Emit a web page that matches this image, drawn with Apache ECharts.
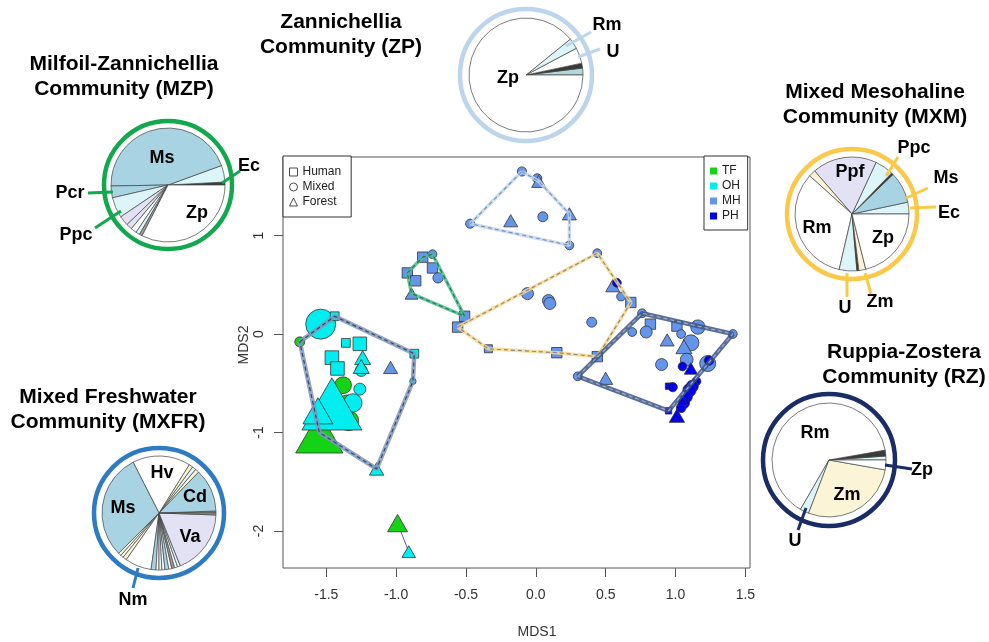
<!DOCTYPE html>
<html><head><meta charset="utf-8">
<script src="https://cdn.jsdelivr.net/npm/echarts@6/dist/echarts.min.js"></script>
<style>html,body{margin:0;padding:0;background:#fff}#c{width:989px;height:642px}</style>
</head><body><div id="c"></div>
<script>
// ---------- DATA ----------
const LANDUSE = ['Human', 'Mixed', 'Forest'];
const SALINITY = ['TF', 'OH', 'MH', 'PH'];
const xTicks = [-1.5, -1, -0.5, 0, 0.5, 1, 1.5];
const yTicks = [-2, -1, 0, 1];

// points: [MDS1, MDS2, relative size, landuse index]
const tfPoints = [
  [-1.69, -0.08, 2.5, 1],
  [-1.38, -0.52, 4.2, 1],
  [-1.35, -0.72, 5, 1],
  [-1.34, -0.88, 5, 1],
  [-1.55, -1.00, 11.8, 2],
  [-0.99, -1.92, 5, 2]
];
const ohPoints = [
  [-1.54, 0.10, 7.5, 1],
  [-1.44, 0.18, 2.2, 0],
  [-1.36, -0.09, 2.2, 0],
  [-1.26, -0.10, 3.4, 0],
  [-1.46, -0.24, 3.4, 0],
  [-1.42, -0.35, 3.4, 0],
  [-1.25, -0.37, 3, 1],
  [-1.24, -0.24, 4, 2],
  [-1.25, -0.33, 4, 2],
  [-0.87, -0.20, 2.2, 0],
  [-0.88, -0.48, 1.6, 1],
  [-1.26, -0.56, 3, 1],
  [-1.31, -0.70, 4.6, 1],
  [-1.46, -0.71, 15, 2],
  [-1.56, -0.78, 7.5, 2],
  [-1.14, -1.37, 3.6, 2],
  [-0.91, -2.21, 3.4, 2]
];
const mhPoints = [
  [-0.10, 1.65, 2.3, 1], [0.01, 1.58, 2.3, 1], [0.02, 1.55, 3.5, 2], [-0.47, 1.12, 2.3, 1],
  [-0.18, 1.15, 3.5, 2], [0.05, 1.19, 2.5, 1], [0.24, 1.22, 3.5, 2], [0.24, 0.90, 2.2, 1],
  [-0.81, 0.78, 2.6, 0], [-0.74, 0.81, 2.2, 1], [-0.92, 0.62, 2.6, 0], [-0.74, 0.67, 2.6, 0],
  [-0.86, 0.54, 2.6, 0], [-0.70, 0.57, 2.6, 1], [-0.89, 0.41, 3.2, 2], [-0.51, 0.18, 2.6, 0],
  [-0.56, 0.07, 2.6, 0],
  [-0.34, -0.15, 2, 0], [0.44, 0.82, 2.2, 1], [0.55, 0.49, 3.5, 2], [0.61, 0.38, 2.2, 1],
  [0.68, 0.32, 2.6, 0], [-0.06, 0.41, 3, 1], [0.09, 0.34, 3, 1], [0.10, 0.31, 3, 1],
  [0.40, 0.12, 2.5, 1], [0.15, -0.19, 2.6, 0], [0.44, -0.23, 2.6, 0],
  [0.76, 0.21, 2.2, 1], [0.82, 0.10, 2.6, 0], [0.79, 0.02, 3, 1], [0.69, 0.02, 2.2, 1],
  [1.01, 0.08, 2.6, 0], [1.16, 0.07, 3.6, 1], [1.41, 0.00, 2.2, 1], [1.04, 0.00, 2.2, 1],
  [0.94, -0.06, 3.5, 2], [1.11, -0.09, 4, 1], [1.06, -0.13, 4, 2], [0.90, -0.31, 3, 1],
  [1.08, -0.26, 3.2, 1], [1.23, -0.30, 4, 1], [0.50, -0.45, 3.5, 2], [0.30, -0.43, 2.2, 1],
  [-1.04, -0.34, 3.5, 2]
];
const phPoints = [
  [0.58, 0.52, 2.2, 1], [1.24, -0.27, 2.4, 1], [1.05, -0.33, 2.2, 1], [1.11, -0.35, 3.3, 2],
  [0.95, -0.53, 1.6, 0], [0.98, -0.54, 2.3, 1], [1.15, -0.48, 2.2, 1], [1.12, -0.53, 3, 1],
  [1.10, -0.57, 3.3, 1], [1.08, -0.64, 2.8, 1], [1.06, -0.70, 2.8, 1], [1.04, -0.75, 2.4, 1],
  [1.05, -0.68, 2.5, 2], [0.95, -0.78, 1.6, 0], [1.01, -0.83, 3.8, 2]
];

// community hulls (vertex points, closed)
const hullZP = [[-0.10, 1.65], [0.02, 1.55], [0.24, 1.22], [0.24, 0.90], [-0.47, 1.12], [-0.10, 1.65]];
const hullMZP = [[-0.92, 0.62], [-0.81, 0.78], [-0.74, 0.81], [-0.51, 0.18], [-0.89, 0.41], [-0.92, 0.62]];
const hullMXM = [[-0.56, 0.07], [0.44, 0.82], [0.68, 0.32], [0.44, -0.23], [0.15, -0.19], [-0.34, -0.15], [-0.56, 0.07]];
const hullRZ = [[0.30, -0.43], [0.76, 0.21], [1.41, 0.00], [0.95, -0.78], [0.30, -0.43]];
const hullMXFR = [[-1.69, -0.08], [-1.44, 0.18], [-0.87, -0.20], [-0.88, -0.48], [-1.14, -1.37], [-1.55, -1.00], [-1.69, -0.08]];
const linkTF = [[-0.99, -1.92], [-0.91, -2.21]];

// community pies (slice share in degrees, counter-clockwise from east)
const zpNames = ['', '', 'U', 'Rm', 'Zp'];
const zpValues = [7, 5, 16, 11, 321];
const zpFills = ['tl', 'dk', 'w', 'lc', 'w'];

const mzpNames = ['', 'Ec', 'Ms', 'Pcr', 'Ppc', '', '', '', '', '', 'Zp'];
const mzpValues = [3, 17, 161, 12, 21, 10, 6, 6, 4, 3, 117];
const mzpFills = ['dk', 'lc', 'lb', 'lb', 'lc', 'lv', 'lv', 'w', 'lc', 'gy', 'w'];

const mxmNames = ['Ec', 'Ms', '', 'Ppc', 'Ppf', '', 'Rm', 'U', '', 'Zm', 'Zp'];
const mxmValues = [12, 32, 2, 19, 66, 7, 119, 18, 2, 7, 76];
const mxmFills = ['lc', 'lb', 'dk', 'lc', 'lv', 'cr', 'w', 'lc', 'dk', 'cr', 'w'];

const rzNames = ['', '', 'Rm', 'U', 'Zm', 'Zp'];
const rzValues = [4, 6, 230, 9, 101, 10];
const rzFills = ['lc', 'dk', 'w', 'lc', 'cr', 'w'];

const mxfrNames = ['', 'Cd', '', '', '', 'Hv', 'Ms', '', '', '', 'Nm', '', '', '', '', '', '', '', '', '', 'Va', ''];
const mxfrValues = [2, 44, 4, 4, 4, 59, 108, 3, 3, 4, 27, 5, 3, 3, 3, 4, 3, 3, 3, 3, 66, 2];
const mxfrFills = ['gy', 'lb', 'cr', 'lc', 'cr', 'w', 'lb', 'cr', 'w', 'cr', 'w', 'lb', 'w', 'lc', 'w', 'lb', 'w', 'gy', 'w', 'lc', 'lv', 'gy'];

// ---------- STYLE / LAYOUT ----------
const COL = { w: '#ffffff', lb: '#a8d3e2', lc: '#dcf5f8', lv: '#e2e2f4', cr: '#fbf4d6', dk: '#3a3a3a', gy: '#9c9c9c', tl: '#b2d9de' };
const GROUP_COL = { TF: '#14d214', OH: '#00eef0', MH: '#6495ed', PH: '#0000ee' };
const SHAPES = ['rect', 'circle', 'triangle'];
const FONT = '"Liberation Sans", Arial, sans-serif';

const pies = [
  { names: zpNames, values: zpValues, fills: zpFills, center: [526, 75], ring: 66, ringColor: '#bcd5ec',
    title: 'Zannichellia\nCommunity (ZP)', titlePos: [341, 10],
    labels: { Zp: [508, 78], Rm: [607, 25], U: [613, 52] },
    lines: [[[591, 32], [566, 46]], [[600, 49], [578, 57]]] },
  { names: mzpNames, values: mzpValues, fills: mzpFills, center: [168, 185], ring: 64, ringColor: '#14a84e',
    title: 'Milfoil-Zannichellia\nCommunity (MZP)', titlePos: [124, 52],
    labels: { Ms: [162, 158], Zp: [197, 213], Ec: [249, 166], Pcr: [70, 193], Ppc: [76, 235] },
    lines: [[[240, 171], [222, 183]], [[88, 193], [113, 192]], [[95, 228], [121, 211]]] },
  { names: mxmNames, values: mxmValues, fills: mxmFills, center: [852, 214], ring: 65, ringColor: '#fbc94a',
    title: 'Mixed Mesohaline\nCommunity (MXM)', titlePos: [875, 80],
    labels: { Ppf: [850, 172], Rm: [817, 228], Zp: [883, 238], Ppc: [914, 148], Ms: [946, 178], Ec: [949, 213], U: [845, 308], Zm: [880, 302] },
    lines: [[[898, 157], [886, 176]], [[928, 188], [906, 198]], [[936, 207], [910, 208]], [[847, 297], [847, 273]], [[871, 294], [865, 273]]] },
  { names: rzNames, values: rzValues, fills: rzFills, center: [829, 460], ring: 66, ringColor: '#1a2c66',
    title: 'Ruppia-Zostera\nCommunity (RZ)', titlePos: [904, 340],
    labels: { Rm: [815, 433], Zm: [847, 495], Zp: [922, 470], U: [795, 541] },
    lines: [[[912, 469], [885, 465]], [[798, 530], [806, 508]]] },
  { names: mxfrNames, values: mxfrValues, fills: mxfrFills, center: [159, 513], ring: 65, ringColor: '#2e7bc4',
    title: 'Mixed Freshwater\nCommunity (MXFR)', titlePos: [108, 385],
    labels: { Hv: [162, 473], Cd: [195, 497], Ms: [123, 508], Va: [190, 537], Nm: [133, 600] },
    lines: [[[133, 588], [138, 568]]] }
];

function symbolItems(arr) {
  return arr.map(p => {
    const px = p[2] * 4;
    return {
      value: [p[0], p[1]],
      symbol: SHAPES[p[3]],
      symbolSize: p[3] === 2 ? [px, px * 0.87] : px
    };
  });
}

function scatterSeries(name, arr) {
  return {
    type: 'scatter', name, data: symbolItems(arr), animation: false,
    itemStyle: { color: GROUP_COL[name], borderColor: '#333', borderWidth: 0.8, opacity: 1 },
    emphasis: { disabled: true }, z: 2
  };
}

function hullSeries(pts, color, width, dash, dashWidth) {
  return [
    { type: 'line', data: pts, symbol: 'none', silent: true, animation: false, z: 3,
      lineStyle: { color, width, opacity: 0.85 } },
    { type: 'line', data: pts, symbol: 'none', silent: true, animation: false, z: 4,
      lineStyle: { color: dash, width: dashWidth, type: [4, 3] } }
  ];
}

const series = [
  { type: 'scatter', name: 'Human', data: [], itemStyle: { color: '#fff', borderColor: '#222', borderWidth: 1 } },
  { type: 'scatter', name: 'Mixed', data: [], itemStyle: { color: '#fff', borderColor: '#222', borderWidth: 1 } },
  { type: 'scatter', name: 'Forest', data: [], itemStyle: { color: '#fff', borderColor: '#222', borderWidth: 1 } },
  scatterSeries('TF', tfPoints),
  scatterSeries('OH', ohPoints),
  scatterSeries('MH', mhPoints),
  scatterSeries('PH', phPoints),
  ...hullSeries(hullZP, '#c3d7ee', 3.5, '#7f93b6', 1.2),
  ...hullSeries(hullMZP, '#47bd8c', 3.5, '#2f6f5c', 1.2),
  ...hullSeries(hullMXM, '#f8d98c', 3.5, '#8a8a8a', 1.2),
  ...hullSeries(hullRZ, '#3d5585', 4.5, '#9aabcf', 1.2),
  ...hullSeries(hullMXFR, '#7f97bb', 4.5, '#34476e', 1.2),
  { type: 'line', data: linkTF, symbol: 'none', silent: true, animation: false, z: 1,
    lineStyle: { color: '#5b5bb0', width: 1 } }
];

pies.forEach(p => {
  series.push({
    type: 'pie', center: p.center, radius: 57, startAngle: 0, clockwise: false,
    animation: false, silent: true, avoidLabelOverlap: false, minAngle: 0,
    itemStyle: { borderColor: '#444', borderWidth: 0.7 },
    label: { show: true, formatter: '{b}', fontFamily: FONT, fontWeight: 'bold', fontSize: 18, color: '#000', position: 'inside' },
    labelLine: { show: false },
    emphasis: { disabled: true },
    data: p.names.map((n, i) => ({
      name: n, value: p.values[i],
      itemStyle: { color: COL[p.fills[i]] },
      label: { show: !!p.labels[n] }
    })),
    labelLayout: (params) => {
      const n = p.names[params.dataIndex];
      const pos = p.labels[n];
      if (!pos) return {};
      return { x: pos[0], y: pos[1], align: 'center', verticalAlign: 'middle' };
    }
  });
});

const graphic = [];
pies.forEach(p => {
  graphic.push({ type: 'circle', silent: true, z: 10,
    shape: { cx: p.center[0], cy: p.center[1], r: p.ring },
    style: { fill: 'none', stroke: p.ringColor, lineWidth: 4.5 } });
  p.lines.forEach(l => graphic.push({ type: 'polyline', silent: true, z: 11,
    shape: { points: l }, style: { fill: null, stroke: p.ringColor, lineWidth: 3 } }));
  graphic.push({ type: 'text', silent: true, x: p.titlePos[0], y: p.titlePos[1],
    style: { text: p.title, font: 'bold 21px ' + FONT, textAlign: 'center', textVerticalAlign: 'top', lineHeight: 25, fill: '#000' } });
});
graphic.push({ type: 'text', silent: true, x: 537, y: 632,
  style: { text: 'MDS1', font: '14px ' + FONT, textAlign: 'center', textVerticalAlign: 'middle', fill: '#333' } });
graphic.push({ type: 'text', silent: true, x: 244, y: 345, rotation: Math.PI / 2,
  style: { text: 'MDS2', font: '14px ' + FONT, textAlign: 'center', textVerticalAlign: 'middle', fill: '#333' } });

const chart = echarts.init(document.getElementById('c'));
chart.setOption({
  backgroundColor: '#fff',
  animation: false,
  grid: { left: 283, top: 157, width: 467, height: 411, show: true, borderColor: '#555', borderWidth: 1, backgroundColor: 'transparent' },
  xAxis: {
    type: 'value', min: -1.81, max: 1.533, splitLine: { show: false }, axisLine: { show: false, onZero: false },
    axisTick: { show: true, customValues: xTicks, length: 9, lineStyle: { color: '#555' } },
    axisLabel: { customValues: xTicks, formatter: v => v.toFixed(1), margin: 20, fontSize: 14, color: '#333', fontFamily: FONT }
  },
  yAxis: {
    type: 'value', min: -2.376, max: 1.797, splitLine: { show: false }, axisLine: { show: false, onZero: false },
    axisTick: { show: true, customValues: yTicks, length: 9, lineStyle: { color: '#555' } },
    axisLabel: { customValues: yTicks, formatter: v => String(v), rotate: 90, margin: 17, fontSize: 14, color: '#333', fontFamily: FONT }
  },
  legend: [
    { data: [{ name: 'Human', icon: 'rect' }, { name: 'Mixed', icon: 'circle' }, { name: 'Forest', icon: 'triangle' }],
      orient: 'vertical', left: 283, top: 156, padding: [10, 10, 9, 6], itemWidth: 8, itemHeight: 8, itemGap: 3,
      borderColor: '#333', borderWidth: 1, borderRadius: 0, selectedMode: false, backgroundColor: '#fff',
      itemStyle: { color: '#fff', borderColor: '#222', borderWidth: 1 },
      textStyle: { fontSize: 12, fontFamily: FONT, color: '#222', padding: [0, 0, 0, 0] } },
    { data: SALINITY.map(s => ({ name: s, icon: 'rect' })),
      orient: 'vertical', left: 704, top: 156, padding: [9, 7, 8, 6], itemWidth: 7, itemHeight: 7, itemGap: 3,
      borderColor: '#333', borderWidth: 1, borderRadius: 0, selectedMode: false, backgroundColor: '#fff',
      itemStyle: { borderWidth: 0 },
      textStyle: { fontSize: 12, fontFamily: FONT, color: '#222' } }
  ],
  series,
  graphic
});
</script>
</body></html>
